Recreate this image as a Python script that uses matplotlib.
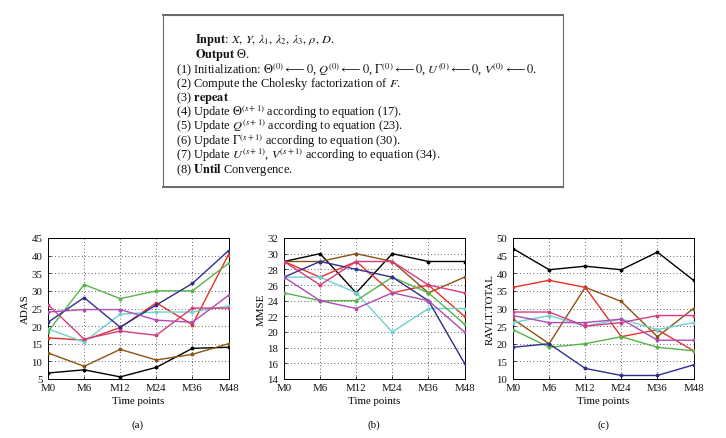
import matplotlib
matplotlib.use("Agg")
import matplotlib.pyplot as plt
from matplotlib.patches import Rectangle
from matplotlib.lines import Line2D

plt.rcParams['font.family'] = ['Liberation Serif', 'DejaVu Serif']
plt.rcParams['mathtext.fontset'] = 'stix'

time_points = ["M0", "M6", "M12", "M24", "M36", "M48"]
series_names = ["black", "brown", "red", "cyan", "green", "blue", "pink", "violet"]
series_colors = ["#000000", "#8b5212", "#e63228", "#6fd0d0", "#55b548", "#2e2e8e", "#d83a7e", "#b14ab4"]

adas = {
    "black":  [6.7, 7.6, 5.6, 8.3, 13.7, 14.0],
    "brown":  [12.4, 8.6, 13.4, 10.4, 12.0, 15.0],
    "red":    [16.7, 16.0, 19.6, 26.6, 20.4, 40.3],
    "cyan":   [19.2, 15.5, 23.4, 24.0, 24.0, 25.7],
    "green":  [18.4, 31.8, 27.8, 30.0, 30.0, 37.8],
    "blue":   [21.1, 28.1, 19.7, 26.0, 32.1, 41.4],
    "pink":   [26.1, 16.3, 18.6, 17.4, 25.1, 25.1],
    "violet": [24.0, 24.7, 24.7, 21.7, 21.1, 28.7],
}
mmse = {
    "black":  [29, 30, 25, 30, 29, 29],
    "brown":  [29, 29, 30, 29, 25, 27],
    "red":    [29, 27, 29, 25, 26, 22],
    "cyan":   [27, 27, 25, 20, 23, 23],
    "green":  [25, 24, 24, 27, 25, 21],
    "blue":   [27, 29, 28, 27, 24, 16],
    "pink":   [29, 26, 29, 29, 26, 25],
    "violet": [27, 24, 23, 25, 24, 20],
}
ravlt = {
    "black":  [47, 41, 42, 41, 46, 38],
    "brown":  [27, 20, 36, 32, 22, 30],
    "red":    [36, 38, 36, 22, 24, 18],
    "cyan":   [26, 28, 25, 27, 24, 26],
    "green":  [24, 19, 20, 22, 19, 18],
    "blue":   [19, 20, 13, 11, 11, 14],
    "pink":   [29, 29, 25, 26, 28, 28],
    "violet": [28, 26, 26, 27, 21, 21],
}

panels = [
    (adas, "ADAS", (5, 45), list(range(5, 46, 5)), "(a)"),
    (mmse, "MMSE", (14, 32), list(range(14, 33, 2)), "(b)"),
    (ravlt, "RAVLT.TOTAL", (10, 50), list(range(10, 51, 5)), "(c)"),
]

W, H = 726, 439
fig = plt.figure(figsize=(W / 100, H / 100), dpi=100)

# ---- algorithm box ----
fig.add_artist(Rectangle((163 / W, 1 - 188 / H), 400 / W, 172 / H,
                         transform=fig.transFigure, fill=False,
                         edgecolor="#6a6a6a", lw=0.8))
for yy in (16, 188):
    fig.add_artist(Line2D([163 / W, 563 / W], [1 - yy / H, 1 - yy / H],
                          transform=fig.transFigure, color="#6a6a6a", lw=1.4))

alg_lines = [
    (195, r"$\mathbf{Input}$: $X,\, Y,\, \lambda_1,\, \lambda_2,\, \lambda_3,\, \rho,\, D$."),
    (195, r"$\mathbf{Output}$ $\Theta$."),
    (176, r"(1) Initialization: $\Theta^{(0)} \longleftarrow 0$, $Q^{(0)} \longleftarrow 0$, "
          r"$\Gamma^{(0)} \longleftarrow 0$, $U^{(0)} \longleftarrow 0$, $V^{(0)} \longleftarrow 0$."),
    (176, r"(2) Compute the Cholesky factorization of $F$."),
    (176, r"(3) $\mathbf{repeat}$"),
    (176, r"(4) Update $\Theta^{(s+1)}$ according to equation (17)."),
    (176, r"(5) Update $Q^{(s+1)}$ according to equation (23)."),
    (176, r"(6) Update $\Gamma^{(s+1)}$ according to equation (30)."),
    (176, r"(7) Update $U^{(s+1)}$, $V^{(s+1)}$ according to equation (34)."),
    (176, r"(8) $\mathbf{Until}$ Convergence."),
]
y0 = 40.5
for i, (x, s) in enumerate(alg_lines):
    fig.text(x / W, 1 - (y0 + i * 14.35) / H, s, fontsize=8.9,
             ha="left", va="center", color="#111111")

# ---- plots ----
lefts = [48, 284, 513]
xs = list(range(len(time_points)))
for (data, ylabel, ylim, yticks, tag), lp in zip(panels, lefts):
    ax = fig.add_axes([lp / W, 1 - 380 / H, 180.5 / W, 141 / H])
    for name, col in zip(series_names, series_colors):
        ax.plot(xs, data[name], color=col, lw=1.0, marker="o", ms=2.8,
                markeredgewidth=0, zorder=3)
    ax.set_xlim(0, 5)
    ax.set_ylim(*ylim)
    ax.set_xticks(xs)
    ax.set_xticklabels(time_points)
    ax.set_yticks(yticks)
    ax.grid(True, color="#333333", lw=0.6, linestyle=(0, (1, 3)))
    ax.tick_params(direction="in", length=2, width=0.6, labelsize=7.8,
                   colors="#111111")
    ax.tick_params(axis="x", pad=3)
    ax.tick_params(axis="y", pad=4)
    for sp in ax.spines.values():
        sp.set_linewidth(0.7)
    ax.set_xlabel("Time points", fontsize=7.8, labelpad=3)
    ax.set_ylabel(ylabel, fontsize=7.8, labelpad=1.5)
    fig.text((lp + 90) / W, 1 - 425 / H, tag, fontsize=7.8,
             ha="center", va="center")

fig.savefig("out.png", dpi=100)
